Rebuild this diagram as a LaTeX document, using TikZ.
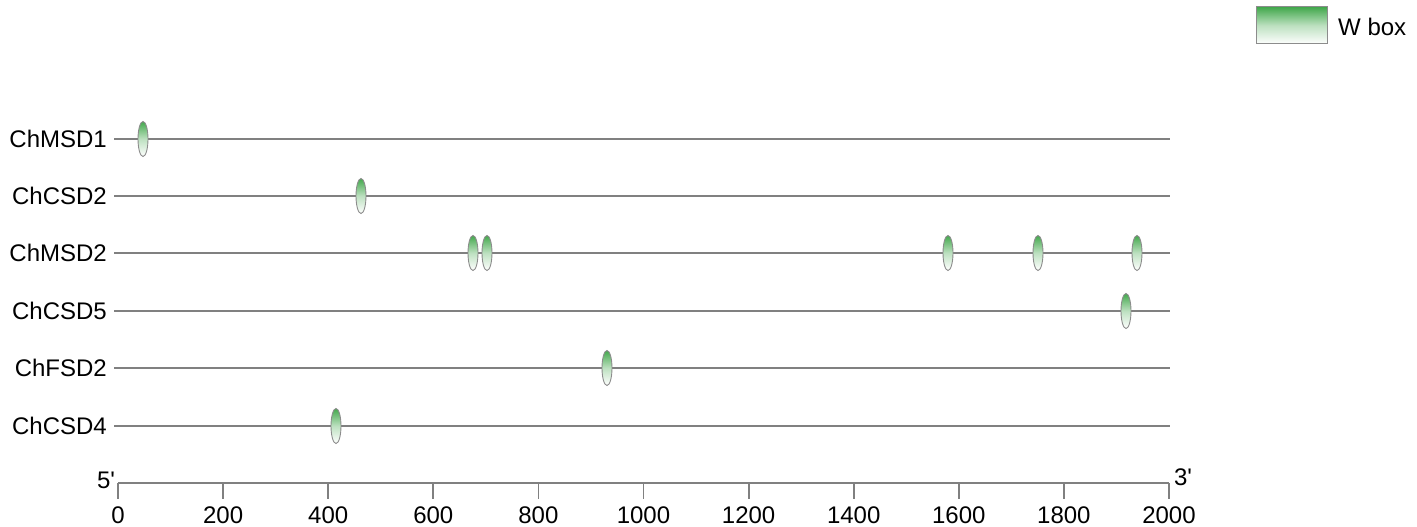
\documentclass[tikz,border=0pt]{standalone}
\usepackage{fontspec}
\setmainfont{Liberation Sans}
\usetikzlibrary{shapes.geometric}
\definecolor{wgreen}{RGB}{66,168,76}
\definecolor{linegray}{RGB}{128,128,128}
\definecolor{edgegray}{RGB}{140,140,140}
\begin{document}
\begin{tikzpicture}[x=1pt,y=-1pt,
  lbl/.style={anchor=east,inner sep=0pt,font=\fontsize{24}{28}\selectfont},
  ticklbl/.style={inner sep=0pt,font=\fontsize{24}{28}\selectfont},
  geneline/.style={draw=linegray,line width=2.4pt},
  axisline/.style={draw=linegray,line width=1.8pt},
  wbox/.style={ellipse,draw=edgegray,line width=0.9pt,minimum width=10pt,minimum height=35pt,inner sep=0pt,
    top color=wgreen,bottom color=white,middle color=wgreen!35},
  legbox/.style={rectangle,draw=edgegray,line width=1pt,minimum width=71pt,minimum height=37pt,inner sep=0pt,
    top color=wgreen,bottom color=white,middle color=wgreen!35}]
\useasboundingbox (0,0) rectangle (1417,527);
% legend
\node[legbox] (leg) at (1291.5,25.5) {};
\node[lbl,anchor=west] (legtxt) at (1338,27) {W box};
% gene rows
\foreach \name/\y/\lab in {g1/139/ChMSD1,g2/196/ChCSD2,g3/253/ChMSD2,g4/311/ChCSD5,g5/368/ChFSD2,g6/426/ChCSD4}{
  \node[lbl] (\name lab) at (107,\y) {\lab};
  \coordinate (\name s) at (114,\y);
  \coordinate (\name e) at (1170,\y);
  \draw[geneline] (\name s) -- (\name e);
}
% W box elements
\node[wbox] (m11) at (143,139) {};
\node[wbox] (m21) at (361,196) {};
\node[wbox] (m31) at (473,253) {};
\node[wbox] (m32) at (487,253) {};
\node[wbox] (m33) at (948,253) {};
\node[wbox] (m34) at (1038,253) {};
\node[wbox] (m35) at (1137,253) {};
\node[wbox] (m41) at (1126,311) {};
\node[wbox] (m51) at (607,368) {};
\node[wbox] (m61) at (336,426) {};
% axis
\coordinate (a0) at (118,483);
\coordinate (a1) at (1169,483);
\draw[axisline] (a0) -- (a1);
\foreach \v in {0,200,...,2000}{
  \pgfmathsetmacro{\xx}{118+\v*0.5255}
  \coordinate (t\v) at (\xx,483);
  \coordinate (tb\v) at (\xx,499);
  \draw[axisline] (t\v) -- (tb\v);
  \node[ticklbl] (tl\v) at (\xx,515) {\v};
}
\node[ticklbl] (five) at (106,480) {5\textquotesingle};
\node[ticklbl] (three) at (1183,477) {3\textquotesingle};
\end{tikzpicture}
\end{document}
